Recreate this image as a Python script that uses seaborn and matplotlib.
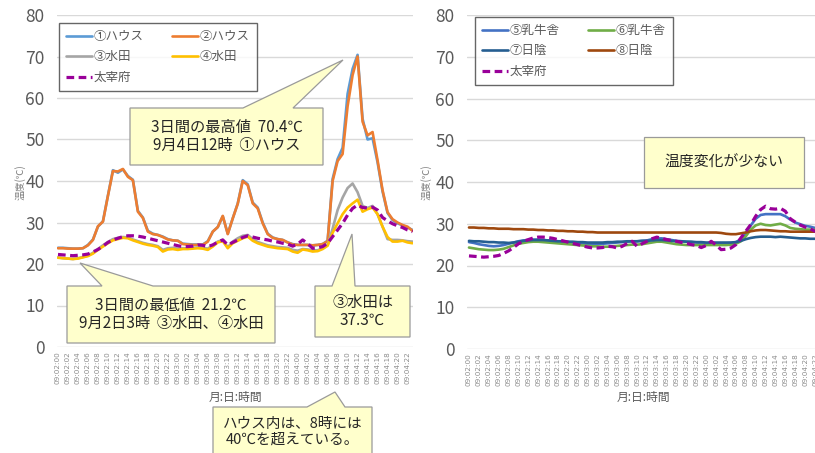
import matplotlib
matplotlib.use("Agg")
import matplotlib.pyplot as plt
from matplotlib.patches import Polygon
import pandas as pd
import seaborn as sns

# ---- time axis: hourly readings, 2-4 September ----
days = ["02", "03", "04"]
hours_per_day = 24
stamps = [f"09:{d}:{h:02d}" for d in days for h in range(hours_per_day)]

# ---- left panel: houses and paddy fields (℃) ----
house1 = [23.9, 23.9, 23.8, 23.7, 23.7, 23.8, 24.6, 25.9, 29.0, 30.3, 36.5, 42.6,
          42.0, 42.8, 41.2, 40.3, 32.8, 31.2, 28.0, 27.3, 27.0, 26.6, 26.0, 25.7,
          25.6, 24.9, 24.8, 24.7, 24.7, 24.7, 25.5, 27.8, 28.9, 31.5, 27.3, 31.0,
          34.6, 40.2, 39.2, 34.8, 33.6, 30.0, 27.3, 26.4, 26.0, 25.8, 25.2, 24.8,
          24.6, 24.6, 24.6, 24.5, 24.6, 24.8, 25.6, 40.5, 45.3, 48.0, 61.0, 67.0,
          70.4, 55.0, 50.0, 50.3, 44.5, 37.5, 32.3, 30.6, 29.8, 29.3, 28.8, 28.2]
house2 = [23.8, 23.8, 23.7, 23.7, 23.7, 23.8, 24.5, 25.8, 29.1, 30.2, 36.4, 42.4,
          42.3, 42.9, 41.0, 40.2, 32.6, 31.1, 27.8, 27.2, 27.0, 26.5, 25.9, 25.7,
          25.6, 24.8, 24.7, 24.6, 24.6, 24.6, 25.4, 27.8, 28.9, 31.6, 27.2, 31.0,
          34.5, 40.0, 39.0, 34.6, 33.4, 29.8, 27.2, 26.3, 26.0, 25.8, 25.2, 24.7,
          24.6, 24.6, 24.6, 24.5, 24.6, 24.8, 25.5, 40.0, 44.8, 46.5, 58.0, 65.5,
          70.0, 54.3, 51.0, 51.8, 45.0, 37.8, 32.5, 30.8, 30.0, 29.4, 29.0, 28.0]
paddy3 = [21.6, 21.4, 21.3, 21.2, 21.4, 21.7, 22.0, 22.7, 23.6, 24.5, 25.3, 26.0,
          26.3, 26.5, 26.4, 25.9, 25.5, 25.1, 24.8, 24.6, 24.3, 23.4, 23.8, 23.9,
          23.7, 23.8, 23.8, 23.9, 24.0, 23.9, 23.7, 24.5, 25.4, 25.8, 24.0, 25.4,
          26.2, 26.8, 27.0, 26.0, 25.3, 24.9, 24.5, 24.3, 24.1, 24.0, 23.9, 23.4,
          23.2, 23.6, 23.5, 23.3, 23.3, 23.8, 24.6, 28.5, 33.0, 36.0, 38.3, 39.4,
          37.3, 34.0, 33.5, 34.0, 32.0, 29.0, 26.0, 25.8, 25.8, 25.7, 25.5, 25.4]
paddy4 = [21.5, 21.4, 21.3, 21.2, 21.3, 21.6, 21.9, 22.5, 23.4, 24.2, 25.0, 25.7,
          26.0, 26.3, 26.2, 25.7, 25.3, 24.9, 24.6, 24.4, 24.1, 23.0, 23.5, 23.6,
          23.4, 23.6, 23.6, 23.7, 23.8, 23.7, 23.4, 24.2, 25.2, 25.5, 23.8, 25.0,
          25.6, 26.2, 26.6, 25.6, 25.0, 24.6, 24.2, 24.0, 23.8, 23.7, 23.6, 23.0,
          22.7, 23.5, 23.3, 23.0, 23.1, 23.6, 24.4, 27.5, 29.8, 32.0, 33.6, 34.6,
          35.5, 32.6, 33.2, 33.6, 32.0, 29.0, 26.5, 25.4, 25.4, 25.6, 25.2, 25.0]
dazaifu = [22.3, 22.2, 22.1, 22.0, 22.1, 22.2, 22.4, 22.9, 23.5, 24.3, 25.2, 25.8,
           26.2, 26.6, 26.8, 26.8, 26.7, 26.5, 26.2, 25.9, 25.6, 25.3, 25.0, 24.7,
           24.4, 24.2, 24.2, 24.3, 24.6, 24.5, 24.2, 24.6, 25.3, 25.8, 24.6, 25.2,
           25.8, 26.4, 26.8, 26.5, 26.2, 26.0, 25.8, 25.5, 25.3, 25.0, 24.8, 24.3,
           24.8, 25.8, 24.9, 23.8, 23.9, 24.2, 25.0, 26.6, 28.2, 29.8, 31.8, 33.4,
           34.2, 33.6, 33.5, 33.7, 33.0, 31.2, 30.4, 29.7, 29.2, 28.8, 28.2, 27.8]

# ---- right panel: cattle sheds and shade (℃) ----
shed5 = [25.6, 25.4, 25.1, 24.9, 24.7, 24.6, 24.7, 24.9, 25.2, 25.5, 25.8, 26.0,
         26.1, 26.2, 26.2, 26.1, 26.0, 25.9, 25.8, 25.7, 25.6, 25.5, 25.4, 25.3,
         25.2, 25.2, 25.2, 25.2, 25.3, 25.4, 25.5, 25.6, 25.7, 25.8, 25.8, 25.9,
         26.0, 26.3, 26.5, 26.5, 26.3, 26.1, 25.9, 25.8, 25.7, 25.6, 25.5, 25.4,
         25.3, 25.3, 25.3, 25.3, 25.3, 25.4, 25.6, 26.2, 27.8, 29.6, 31.2, 32.1,
         32.3, 32.3, 32.3, 32.3, 31.8, 31.0, 30.3, 29.9, 29.5, 29.3, 29.0, 28.8]
shed6 = [24.3, 24.1, 23.9, 23.8, 23.7, 23.7, 23.8, 24.0, 24.4, 24.8, 25.2, 25.4,
         25.6, 25.7, 25.7, 25.6, 25.5, 25.4, 25.3, 25.2, 25.1, 25.0, 24.9, 24.8,
         24.7, 24.6, 24.6, 24.5, 24.5, 24.6, 24.7, 24.8, 24.9, 25.0, 25.0, 25.1,
         25.3, 25.5, 25.7, 25.7, 25.5, 25.3, 25.1, 25.0, 24.9, 24.9, 24.9, 24.9,
         24.9, 24.9, 24.9, 24.9, 24.9, 25.0, 25.2, 25.8, 27.0, 28.6, 29.6, 30.0,
         29.7, 29.6, 29.8, 30.0, 29.6, 29.0, 28.8, 28.7, 28.6, 28.6, 28.5, 28.4]
shade7 = [25.9, 25.8, 25.8, 25.7, 25.6, 25.6, 25.5, 25.5, 25.4, 25.5, 25.7, 25.9,
          26.0, 26.1, 26.1, 26.1, 26.0, 25.9, 25.8, 25.8, 25.7, 25.7, 25.6, 25.6,
          25.5, 25.5, 25.5, 25.5, 25.6, 25.6, 25.7, 25.7, 25.8, 25.8, 25.8, 25.9,
          25.9, 26.0, 26.1, 26.1, 26.0, 25.9, 25.8, 25.8, 25.7, 25.7, 25.6, 25.6,
          25.5, 25.5, 25.5, 25.5, 25.5, 25.5, 25.6, 25.9, 26.3, 26.6, 26.8, 26.9,
          26.9, 26.9, 26.8, 26.9, 26.8, 26.7, 26.6, 26.5, 26.5, 26.4, 26.4, 26.3]
shade8 = [29.1, 29.1, 29.0, 29.0, 28.9, 28.9, 28.8, 28.8, 28.8, 28.7, 28.7, 28.7,
          28.6, 28.6, 28.5, 28.5, 28.4, 28.4, 28.3, 28.3, 28.2, 28.2, 28.1, 28.1,
          28.0, 28.0, 27.9, 27.9, 27.9, 27.9, 27.9, 27.9, 27.9, 27.9, 27.9, 27.9,
          27.9, 27.9, 27.9, 27.9, 27.9, 27.9, 27.9, 27.9, 27.9, 27.9, 27.9, 27.9,
          27.9, 27.9, 27.9, 27.8, 27.6, 27.5, 27.5, 27.7, 27.9, 28.2, 28.4, 28.5,
          28.5, 28.4, 28.3, 28.2, 28.2, 28.1, 28.1, 28.1, 28.1, 28.1, 28.1, 28.1]

left_series = [("①ハウス", house1, "#5B9BD5", "-"),
               ("②ハウス", house2, "#ED7D31", "-"),
               ("③水田", paddy3, "#A5A5A5", "-"),
               ("④水田", paddy4, "#FFC000", "-"),
               ("太宰府", dazaifu, "#990099", "--")]
right_series = [("⑤乳牛舎", shed5, "#4472C4", "-"),
                ("⑥乳牛舎", shed6, "#70AD47", "-"),
                ("⑦日陰", shade7, "#255E91", "-"),
                ("⑧日陰", shade8, "#9E480E", "-"),
                ("太宰府", dazaifu, "#990099", "--")]

y_ticks = [0, 10, 20, 30, 40, 50, 60, 70, 80]
y_label = "温度(℃)"
x_label = "月:日:時間"

sns.set_theme(style="white")
plt.rcParams["font.family"] = ["Noto Sans CJK JP", "DejaVu Sans"]

W, H = 815, 453
fig = plt.figure(figsize=(W / 100, H / 100), dpi=100)
fig.patch.set_facecolor("white")


def px_rect(x0, y0, x1, y1):
    return [x0 / W, 1 - y1 / H, (x1 - x0) / W, (y1 - y0) / H]


TEXT_GRAY = "#595959"


def draw_panel(ax, series, xlim):
    idx = list(range(len(stamps)))
    for name, vals, color, ls in series:
        df = pd.DataFrame({"t": idx, "v": vals})
        if ls == "--":
            sns.lineplot(data=df, x="t", y="v", ax=ax, color=color, lw=2.3,
                         label=name, zorder=5)
            ax.lines[-1].set_dashes((2.4, 1.4))
        else:
            sns.lineplot(data=df, x="t", y="v", ax=ax, color=color, lw=1.9,
                         label=name, zorder=4)
    ax.set_xlim(*xlim)
    ax.set_ylim(0, 80)
    ax.set_yticks(y_ticks)
    ax.set_yticklabels([str(v) for v in y_ticks], fontsize=12.5, color=TEXT_GRAY)
    ax.set_xticks(idx[::2])
    ax.set_xticklabels(stamps[::2], rotation=90, fontsize=5.2, color="#8c8c8c",
                       family=["DejaVu Sans"])
    ax.tick_params(axis="y", length=0, pad=9)
    ax.tick_params(axis="x", length=0, pad=3)
    ax.grid(axis="y", color="#D9D9D9", lw=1.0)
    ax.grid(axis="x", visible=False)
    for s in ax.spines.values():
        s.set_visible(False)
    ax.set_xlabel("")
    ax.set_ylabel("")
    ax.set_facecolor("white")


def panel_legend(ax, anchor_px):
    handles, labels = ax.get_legend_handles_labels()
    order = [0, 2, 4, 1, 3]
    leg = ax.legend([handles[i] for i in order], [labels[i] for i in order],
                    ncol=2, loc="upper left",
                    bbox_to_anchor=(anchor_px[0] / W, 1 - anchor_px[1] / H),
                    bbox_transform=fig.transFigure, frameon=True, fancybox=False,
                    fontsize=9, handlelength=2.1, handletextpad=0.1,
                    columnspacing=2.3, labelspacing=0.6, borderpad=0.55,
                    borderaxespad=0)
    leg.get_frame().set_edgecolor("#404040")
    leg.get_frame().set_linewidth(1.0)
    for t in leg.get_texts():
        t.set_color(TEXT_GRAY)
    leg.set_zorder(10)


def callout(lines, box, wedge=None, fs=11, text_y=None):
    x0, y0, x1, y1 = box
    pts = [(x0, y0)]
    if wedge is not None:
        bx0, bx1, tip = wedge
        pts += [(bx0, y0), tip, (bx1, y0)]
    pts += [(x1, y0), (x1, y1), (x0, y1)]
    poly = Polygon([(x / W, 1 - y / H) for x, y in pts], closed=True,
                   transform=fig.transFigure, facecolor="#FFFFCC",
                   edgecolor="#9a9a9a", lw=0.9, zorder=20)
    fig.add_artist(poly)
    ty = (y0 + y1) / 2 if text_y is None else text_y
    fig.text((x0 + x1) / 2 / W, 1 - ty / H, "\n".join(lines),
             ha="center", va="center", fontsize=fs, color="#262626",
             linespacing=1.1, zorder=21)


# left panel
axL = fig.add_axes(px_rect(57, 15, 413, 347))
draw_panel(axL, left_series, (-0.2, 71.1))
panel_legend(axL, (59, 23))
fig.text(20 / W, 1 - 182 / H, y_label, rotation=90, ha="center", va="center",
         fontsize=7, color="#7f7f7f")
fig.text(235 / W, 1 - 397 / H, x_label, ha="center", va="center",
         fontsize=8.5, color=TEXT_GRAY)

# right panel
axR = fig.add_axes(px_rect(467, 15, 815, 349))
draw_panel(axR, right_series, (-0.4, 69.6))
panel_legend(axR, (475, 17))
fig.text(426 / W, 1 - 182 / H, y_label, rotation=90, ha="center", va="center",
         fontsize=7, color="#7f7f7f")
fig.text(643 / W, 1 - 397 / H, x_label, ha="center", va="center",
         fontsize=8.5, color=TEXT_GRAY)

# callouts
callout(["3日間の最高値  70.4℃", "9月4日12時  ①ハウス"], (130, 108, 323, 165),
        wedge=(243, 293, (343, 60)))
callout(["3日間の最低値  21.2℃", "9月2日3時  ③水田、④水田"], (67, 286, 275, 343),
        wedge=(102, 153, (80, 263)))
callout(["③水田は", "37.3℃"], (315, 286, 410, 337),
        wedge=(332, 355, (352, 234)))
callout(["ハウス内は、8時には", "40℃を超えている。"], (213, 407, 372, 478),
        wedge=(307, 345, (335, 392)), fs=10.5, text_y=432)
callout(["温度変化が少ない"], (644, 137, 804, 188), fs=10.7)

fig.savefig("out.png", dpi=100, facecolor="white")
